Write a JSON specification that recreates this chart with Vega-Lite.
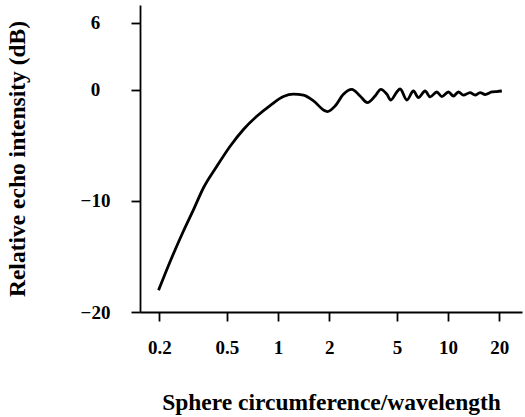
{
  "$schema": "https://vega.github.io/schema/vega-lite/v6.json",
  "autosize": "none",
  "padding": {"left": 140, "top": 5, "right": 3, "bottom": 105},
  "width": 382,
  "height": 307,
  "background": "white",
  "config": {
    "view": {"stroke": null},
    "font": "Liberation Serif",
    "axis": {
      "grid": false,
      "domainColor": "black",
      "domainWidth": 1.8,
      "tickColor": "black",
      "tickWidth": 1.8,
      "tickSize": 9,
      "labelFont": "Liberation Serif",
      "labelFontWeight": "bold",
      "labelFontSize": 19,
      "labelColor": "black",
      "titleFont": "Liberation Serif",
      "titleFontWeight": "bold",
      "titleFontSize": 23.5,
      "titleColor": "black"
    }
  },
  "data": {
    "values": [
      {"x": 0.198, "y": -18.05},
      {"x": 0.232, "y": -15.44},
      {"x": 0.277, "y": -12.74},
      {"x": 0.318, "y": -10.79},
      {"x": 0.364, "y": -8.83},
      {"x": 0.436, "y": -6.9},
      {"x": 0.522, "y": -5.1},
      {"x": 0.625, "y": -3.59},
      {"x": 0.749, "y": -2.4},
      {"x": 0.897, "y": -1.44},
      {"x": 1.075, "y": -0.63},
      {"x": 1.231, "y": -0.42},
      {"x": 1.409, "y": -0.51},
      {"x": 1.614, "y": -1.02},
      {"x": 1.89, "y": -1.92},
      {"x": 1.95, "y": -1.98},
      {"x": 2.164, "y": -1.48},
      {"x": 2.422, "y": -0.42},
      {"x": 2.714, "y": 0.02},
      {"x": 3.035, "y": -0.58},
      {"x": 3.35, "y": -1.17},
      {"x": 3.72, "y": -0.58},
      {"x": 4.02, "y": 0.02},
      {"x": 4.36, "y": -0.42},
      {"x": 4.6, "y": -0.94},
      {"x": 4.99, "y": -0.22},
      {"x": 5.22, "y": 0.05},
      {"x": 5.72, "y": -0.94},
      {"x": 6.25, "y": -0.13},
      {"x": 6.69, "y": -0.72},
      {"x": 7.32, "y": -0.13},
      {"x": 7.84, "y": -0.66},
      {"x": 8.58, "y": -0.22},
      {"x": 9.18, "y": -0.63},
      {"x": 10.04, "y": -0.22},
      {"x": 10.74, "y": -0.58},
      {"x": 11.5, "y": -0.22},
      {"x": 12.3, "y": -0.51},
      {"x": 13.46, "y": -0.27},
      {"x": 14.42, "y": -0.49},
      {"x": 15.42, "y": -0.27},
      {"x": 16.51, "y": -0.45},
      {"x": 18.07, "y": -0.22},
      {"x": 19.33, "y": -0.18},
      {"x": 20.7, "y": -0.13}
    ]
  },
  "mark": {"type": "line", "color": "black", "strokeWidth": 2.8, "interpolate": "monotone"},
  "encoding": {
    "x": {
      "field": "x",
      "type": "quantitative",
      "scale": {"type": "log", "domain": [0.154, 27.2], "nice": false},
      "axis": {
        "values": [0.2, 0.5, 1, 2, 5, 10, 20],
        "labelExpr": "datum.value",
        "labelPadding": 17,
        "labelFlush": false,
        "title": "Sphere circumference/wavelength",
        "titleBaseline": "middle",
        "titleY": 90
      }
    },
    "y": {
      "field": "y",
      "type": "quantitative",
      "scale": {"domain": [-20, 7.6], "nice": false, "zero": false},
      "axis": {
        "values": [-20, -10, 0, 6],
        "labelAlign": "center",
        "labelPadding": 36,
        "labelFlush": false,
        "title": "Relative echo intensity (dB)",
        "titleAngle": -90,
        "titleBaseline": "middle",
        "titleX": -123
      }
    }
  }
}
